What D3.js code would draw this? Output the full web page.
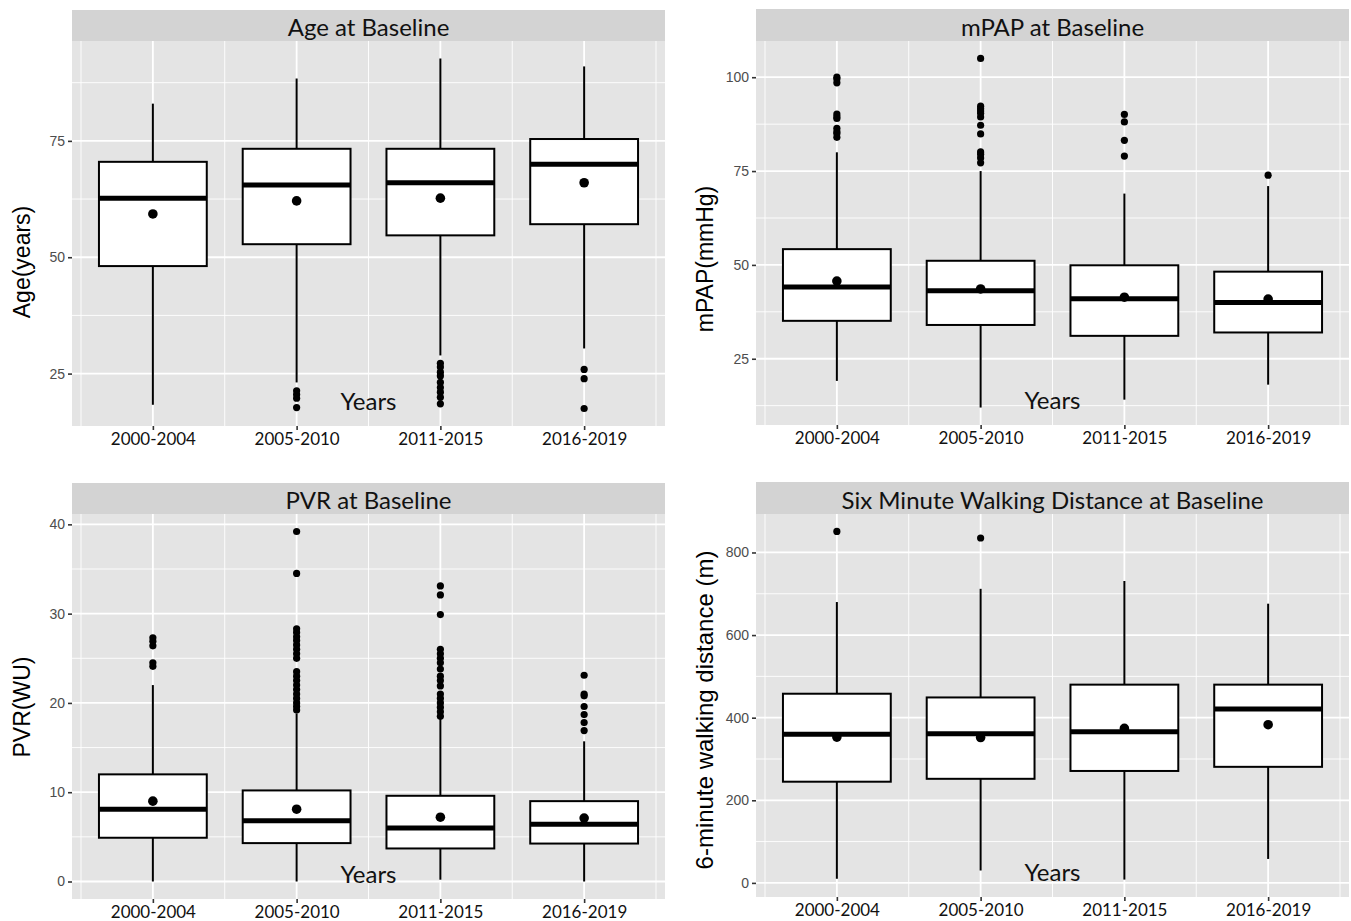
<!DOCTYPE html>
<html>
<head>
<meta charset="utf-8">
<script src="https://cdn.jsdelivr.net/npm/d3@7"></script>
<style>
  body { margin: 0; background: #fff; }
  svg { display: block; }
</style>
</head>
<body>
<svg id="chart"></svg>
<script>
// categories shared by all four panels
const periods = ["2000-2004", "2005-2010", "2011-2015", "2016-2019"];

// Age at baseline
const ageLower = [18.3, 23.1, 28.9, 30.4];
const ageQ1 = [48.1, 52.8, 54.7, 57.1];
const ageMedian = [62.7, 65.5, 66.0, 70.0];
const ageQ3 = [70.5, 73.3, 73.3, 75.4];
const ageUpper = [83.0, 88.4, 92.7, 91.0];
const ageMean = [59.3, 62.1, 62.7, 66.0];
const ageOutliers = [[], [21.3, 20.5, 19.7, 17.7], [27.2, 26.4, 25.3, 24.5, 23.1, 22.0, 21.0, 19.9, 18.5], [25.9, 23.9, 17.5]];
const ageTicks = [25, 50, 75];

// mPAP at baseline
const mpapLower = [19.1, 12.0, 14.1, 18.1];
const mpapQ1 = [35.1, 34.0, 31.1, 32.0];
const mpapMedian = [44.1, 43.1, 41.0, 40.0];
const mpapQ3 = [54.2, 51.1, 49.9, 48.2];
const mpapUpper = [80, 75, 69, 71];
const mpapMean = [45.7, 43.6, 41.4, 40.9];
const mpapOutliers = [[100, 99.5, 98.5, 90.2, 89.5, 89, 86.4, 85.5, 85.0, 84],
  [105, 92.3, 91.6, 91, 90.4, 89.4, 87.2, 84.9, 80.1, 79.5, 78.5, 77.2],
  [90.1, 88.1, 83.2, 79], [73.9]];
const mpapTicks = [25, 50, 75, 100];

// PVR at baseline
const pvrLower = [0, 0, 0.2, 0];
const pvrQ1 = [4.9, 4.3, 3.7, 4.25];
const pvrMedian = [8.1, 6.8, 6.0, 6.4];
const pvrQ3 = [12.0, 10.2, 9.6, 9.0];
const pvrUpper = [22.0, 18.8, 18.4, 15.7];
const pvrMean = [9.0, 8.1, 7.2, 7.1];
const pvrOutliers = [[27.3, 26.9, 26.4, 24.5, 24.1],
  [39.2, 34.5, 28.3, 27.9, 27.4, 27.0, 26.5, 26.0, 25.5, 25.0, 23.5, 23.0, 22.5, 22.0, 21.5, 21.0, 20.5, 20.0, 19.6, 19.2],
  [33.1, 32.1, 29.9, 26.0, 25.5, 25.0, 24.5, 23.8, 23.0, 22.5, 21.9, 21.0, 20.5, 20.0, 19.5, 19.0, 18.5],
  [23.1, 21.0, 20.8, 19.6, 18.7, 17.8, 16.9]];
const pvrTicks = [0, 10, 20, 30, 40];

// six minute walking distance at baseline
const walkLower = [10, 30, 8, 58];
const walkQ1 = [245, 252, 271, 281];
const walkMedian = [360, 361, 366, 421];
const walkQ3 = [458, 449, 480, 480];
const walkUpper = [680, 712, 731, 676];
const walkMean = [353, 352, 374, 383];
const walkOutliers = [[851], [835], [], []];
const walkTicks = [0, 200, 400, 600, 800];

const W = 1351, H = 921;
const svg = d3.select("#chart").attr("width", W).attr("height", H);
svg.append("rect").attr("width", W).attr("height", H).attr("fill", "#fff");

const panels = [
  { title: "Age at Baseline", ylab: "Age(years)", ylabX: 22, ylabY: 262, ylabSize: 23,
    left: 72, right: 665, stripTop: 10, top: 41, bottom: 426,
    lower: ageLower, q1: ageQ1, median: ageMedian, q3: ageQ3, upper: ageUpper, mean: ageMean, out: ageOutliers, ticks: ageTicks },
  { title: "mPAP at Baseline", ylab: "mPAP(mmHg)", ylabX: 705, ylabY: 259, ylabSize: 23,
    left: 756, right: 1349, stripTop: 9, top: 41, bottom: 425,
    lower: mpapLower, q1: mpapQ1, median: mpapMedian, q3: mpapQ3, upper: mpapUpper, mean: mpapMean, out: mpapOutliers, ticks: mpapTicks },
  { title: "PVR at Baseline", ylab: "PVR(WU)", ylabX: 22, ylabY: 707, ylabSize: 23,
    left: 72, right: 665, stripTop: 483, top: 514, bottom: 899,
    lower: pvrLower, q1: pvrQ1, median: pvrMedian, q3: pvrQ3, upper: pvrUpper, mean: pvrMean, out: pvrOutliers, ticks: pvrTicks },
  { title: "Six Minute Walking Distance at Baseline", ylab: "6-minute walking distance (m)", ylabX: 704, ylabY: 710, ylabSize: 24,
    left: 756, right: 1349, stripTop: 482, top: 514, bottom: 897,
    lower: walkLower, q1: walkQ1, median: walkMedian, q3: walkQ3, upper: walkUpper, mean: walkMean, out: walkOutliers, ticks: walkTicks }
];

const narrow = "'Liberation Sans Narrow', 'Arial Narrow', 'Liberation Sans', sans-serif";
const calib = "Lato, 'Open Sans', sans-serif";

panels.forEach(p => {
  // x is continuous like in ggplot: positions 1..4, boxes 0.75 wide, 5% expansion
  const x = d3.scaleLinear().domain([0.4375, 4.5625]).range([p.left, p.right]);
  const allVals = p.lower.concat(p.upper, p.out.flat());
  const [lo, hi] = d3.extent(allVals);
  const pad = (hi - lo) * 0.05;
  const y = d3.scaleLinear().domain([lo - pad, hi + pad]).range([p.bottom, p.top]);

  const g = svg.append("g");

  // panel background
  g.append("rect").attr("x", p.left).attr("y", p.top)
    .attr("width", p.right - p.left).attr("height", p.bottom - p.top).attr("fill", "#e4e4e4");

  // strip
  g.append("rect").attr("x", p.left).attr("y", p.stripTop)
    .attr("width", p.right - p.left).attr("height", p.top - p.stripTop).attr("fill", "#d3d3d3");
  g.append("text").attr("x", (p.left + p.right) / 2).attr("y", (p.stripTop + p.top) / 2 + 1)
    .attr("text-anchor", "middle").attr("dominant-baseline", "central")
    .style("font-family", calib).style("font-size", "24px").attr("fill", "#111").text(p.title);

  // grid lines
  const step = p.ticks[1] - p.ticks[0];
  const minorY = [p.ticks[0] - step / 2].concat(p.ticks.map(t => t + step / 2))
    .filter(v => v > y.domain()[0] && v < y.domain()[1]);
  const xMajor = d3.range(1, periods.length + 1);
  const xMinor = d3.range(0.5, periods.length + 1, 1);

  g.selectAll(".ymin").data(minorY).enter().append("line")
    .attr("x1", p.left).attr("x2", p.right).attr("y1", d => y(d)).attr("y2", d => y(d))
    .attr("stroke", "#fff").attr("stroke-width", 0.9);
  g.selectAll(".xmin").data(xMinor).enter().append("line")
    .attr("x1", d => x(d)).attr("x2", d => x(d)).attr("y1", p.top).attr("y2", p.bottom)
    .attr("stroke", "#fff").attr("stroke-width", 0.9);
  g.selectAll(".ymaj").data(p.ticks).enter().append("line")
    .attr("x1", p.left).attr("x2", p.right).attr("y1", d => y(d)).attr("y2", d => y(d))
    .attr("stroke", "#fff").attr("stroke-width", 1.8);
  g.selectAll(".xmaj").data(xMajor).enter().append("line")
    .attr("x1", d => x(d)).attr("x2", d => x(d)).attr("y1", p.top).attr("y2", p.bottom)
    .attr("stroke", "#fff").attr("stroke-width", 1.8);

  // axes
  const yAxis = g.append("g").attr("transform", `translate(${p.left},0)`)
    .call(d3.axisLeft(y).tickValues(p.ticks).tickSize(4).tickPadding(3));
  yAxis.select(".domain").remove();
  yAxis.selectAll("line").attr("stroke", "#333").attr("stroke-width", 1.6);
  yAxis.selectAll("text").attr("fill", "#4d4d4d")
    .style("font-family", narrow).style("font-size", "14px");

  const xAxis = g.append("g").attr("transform", `translate(0,${p.bottom})`)
    .call(d3.axisBottom(x).tickValues(xMajor).tickFormat(d => periods[d - 1]).tickSize(4).tickPadding(3));
  xAxis.select(".domain").remove();
  xAxis.selectAll("line").attr("stroke", "#333").attr("stroke-width", 1.6);
  xAxis.selectAll("text").attr("fill", "#111")
    .style("font-family", calib).style("font-size", "17px");

  // boxes
  const rows = periods.map((c, i) => ({
    i: i + 1, lower: p.lower[i], q1: p.q1[i], median: p.median[i], q3: p.q3[i],
    upper: p.upper[i], mean: p.mean[i], out: p.out[i]
  }));
  const half = 0.375;

  g.selectAll(".whiskHi").data(rows).enter().append("line")
    .attr("x1", d => x(d.i)).attr("x2", d => x(d.i))
    .attr("y1", d => y(d.q3)).attr("y2", d => y(d.upper))
    .attr("stroke", "#000").attr("stroke-width", 2);
  g.selectAll(".whiskLo").data(rows).enter().append("line")
    .attr("x1", d => x(d.i)).attr("x2", d => x(d.i))
    .attr("y1", d => y(d.q1)).attr("y2", d => y(d.lower))
    .attr("stroke", "#000").attr("stroke-width", 2);

  g.selectAll(".box").data(rows).enter().append("rect")
    .attr("x", d => x(d.i - half)).attr("width", d => x(d.i + half) - x(d.i - half))
    .attr("y", d => y(d.q3)).attr("height", d => y(d.q1) - y(d.q3))
    .attr("fill", "#fff").attr("stroke", "#000").attr("stroke-width", 2);

  g.selectAll(".med").data(rows).enter().append("line")
    .attr("x1", d => x(d.i - half)).attr("x2", d => x(d.i + half))
    .attr("y1", d => y(d.median)).attr("y2", d => y(d.median))
    .attr("stroke", "#000").attr("stroke-width", 5);

  // outliers
  const pts = rows.flatMap(d => d.out.map(v => ({ i: d.i, v })));
  g.selectAll(".out").data(pts).enter().append("circle")
    .attr("cx", d => x(d.i)).attr("cy", d => y(d.v)).attr("r", 3.6).attr("fill", "#000");

  // means
  g.selectAll(".mean").data(rows).enter().append("circle")
    .attr("cx", d => x(d.i)).attr("cy", d => y(d.mean)).attr("r", 4.8).attr("fill", "#000");

  // axis titles
  g.append("text").attr("transform", `translate(${p.ylabX},${p.ylabY}) rotate(-90)`)
    .attr("text-anchor", "middle").attr("dominant-baseline", "central")
    .style("font-family", "'Liberation Sans', Arial, sans-serif").style("font-size", p.ylabSize + "px")
    .attr("fill", "#000").text(p.ylab);

  g.append("text").attr("x", (p.left + p.right) / 2).attr("y", p.bottom - 16)
    .attr("text-anchor", "middle")
    .style("font-family", calib).style("font-size", "24px").attr("fill", "#111").text("Years");
});
</script>
</body>
</html>
